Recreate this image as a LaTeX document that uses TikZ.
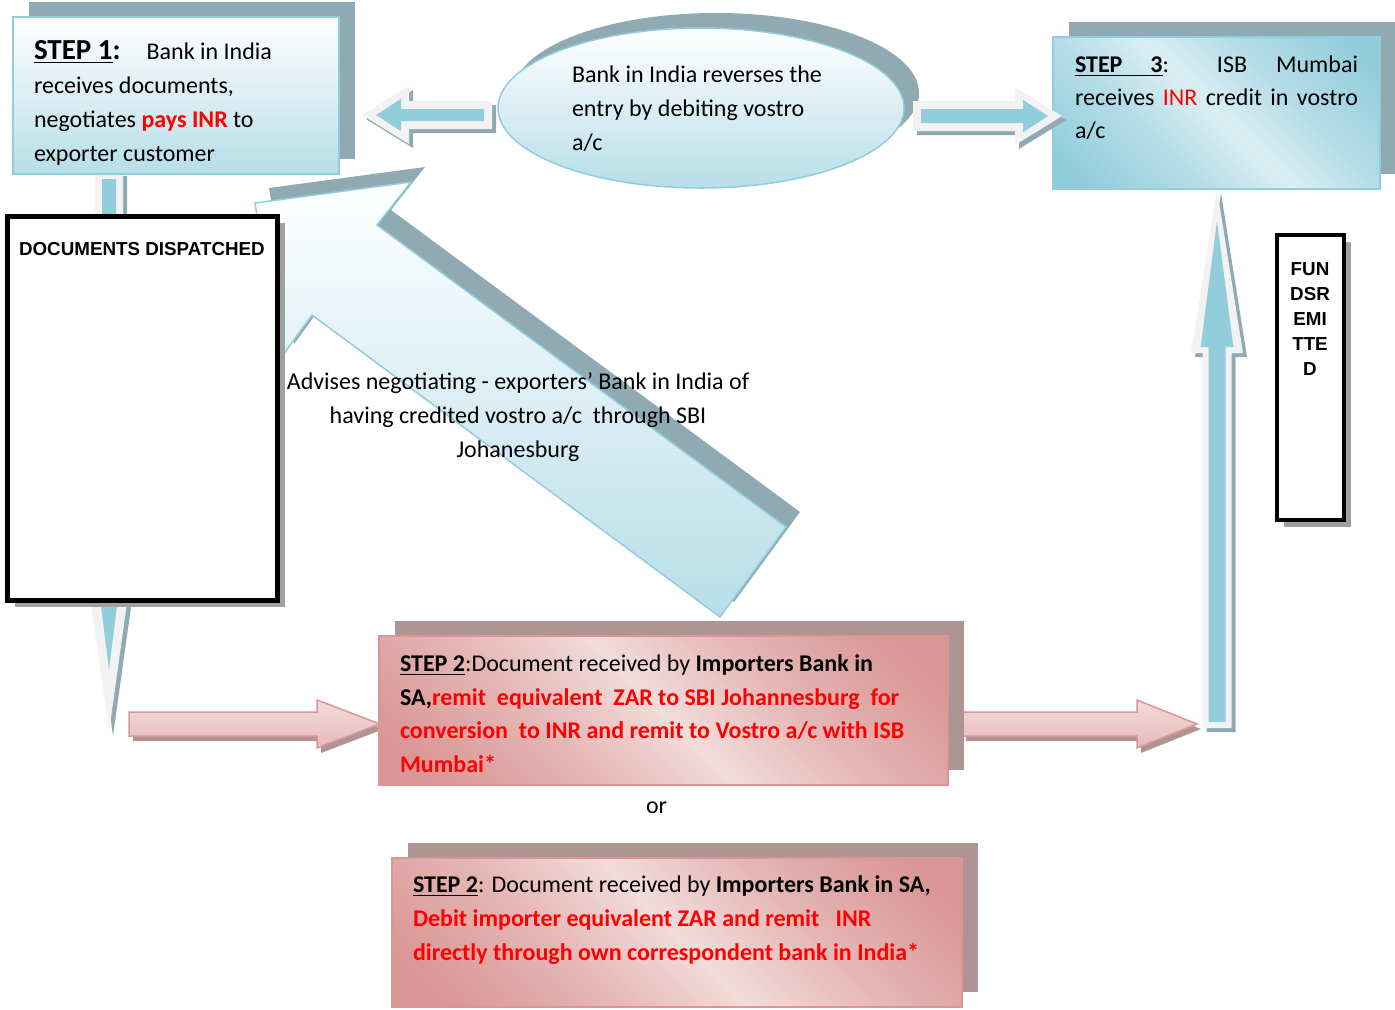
\documentclass[tikz,border=0pt]{standalone}
\usepackage{fontspec}
\setmainfont{Carlito}
\newfontfamily\arialfont{Liberation Sans}
\usetikzlibrary{positioning, shapes.geometric, shadows}

\definecolor{rimblue}{RGB}{146,205,221}
\definecolor{arrowblue}{RGB}{146,205,220}
\definecolor{paleblue}{RGB}{218,238,243}
\definecolor{softblue}{RGB}{183,222,232}
\definecolor{blueshadow}{RGB}{143,170,178}
\definecolor{rimgray}{RGB}{242,242,242}
\definecolor{pinkline}{RGB}{217,150,148}
\definecolor{pinklight}{RGB}{242,220,219}
\definecolor{pinkmid}{RGB}{230,185,184}
\definecolor{pinkshadow}{RGB}{175,148,148}
\definecolor{docshadow}{RGB}{160,160,160}
\colorlet{bluehalf}{arrowblue!55!paleblue}
\colorlet{pinkhalf}{pinkline!55!pinklight}

\pgfdeclarehorizontalshading{blueband}{100bp}{color(0bp)=(arrowblue); color(20bp)=(arrowblue); color(36bp)=(bluehalf); color(50bp)=(paleblue); color(64bp)=(bluehalf); color(80bp)=(arrowblue); color(100bp)=(arrowblue)}
\pgfdeclarehorizontalshading{pinkband}{100bp}{color(0bp)=(pinkline); color(20bp)=(pinkline); color(36bp)=(pinkhalf); color(50bp)=(pinklight); color(64bp)=(pinkhalf); color(80bp)=(pinkline); color(100bp)=(pinkline)}

\begin{document}
\begin{tikzpicture}[x = 0.5pt, y = -0.5pt,
    every node/.style = { inner sep = 0pt, outer sep = 0pt },
    body/.style = { anchor = base west, align = left, font = \fontsize{12}{17}\selectfont },
    bluebox/.style = { draw = rimblue, line width = 0.75pt, anchor = north west,
      drop shadow = {shadow xshift=8pt,shadow yshift=7.5pt,fill=blueshadow,opacity=1} },
    pinkbox/.style = { draw = pinkline, line width = 0.75pt, anchor = north west, shade, shading = pinkband, shading angle = 45,
      drop shadow = {shadow xshift=8pt,shadow yshift=7.5pt,fill=pinkshadow,opacity=1} },
    blackbox/.style = { draw, fill = white, anchor = north west },
    pics/hollowarrow/.style n args = {7}{ code = {
      \fill[blueshadow, shift = {#7}] (0,-#2) -- ({#1-#4},-#2) -- ({#1-#4},-#3) -- (#1,0) -- ({#1-#4},#3) -- ({#1-#4},#2) -- (0,#2) -- cycle;
      \fill[rimgray] (0,-#2) -- ({#1-#4},-#2) -- ({#1-#4},-#3) -- (#1,0) -- ({#1-#4},#3) -- ({#1-#4},#2) -- (0,#2) -- cycle;
      \fill[arrowblue] (#5,{#5-#2}) -- ({#1-#4+#5},{#5-#2}) -- ({#1-#4+#5},{1.6*#5-#3}) -- ({#1-#6},0)
        -- ({#1-#4+#5},{#3-1.6*#5}) -- ({#1-#4+#5},{#2-#5}) -- (#5,{#2-#5}) -- cycle; } },
    pics/pinkarrow/.style n args = {4}{ code = {
      \fill[pinkshadow, shift = {(4,5)}] (0,-#2) -- ({#1-#4},-#2) -- ({#1-#4},-#3) -- (#1,0) -- ({#1-#4},#3) -- ({#1-#4},#2) -- (0,#2) -- cycle;
      \shade[top color = pinklight, bottom color = pinkmid, draw = pinkline, line width = 0.75pt]
        (0,-#2) -- ({#1-#4},-#2) -- ({#1-#4},-#3) -- (#1,0) -- ({#1-#4},#3) -- ({#1-#4},#2) -- (0,#2) -- cycle; } }
  ]
  \useasboundingbox (0,0) rectangle (1395,1009);

  \pic[rotate = -90] at (109,172) {hollowarrow = {560}{14}{24}{172}{7}{62}{(4,-4)}};

  \fill[blueshadow, shift = {(14,-15)}] (255,203) -- (411,182) -- (377,225) -- (786,527) -- (720,617) -- (312,315) -- (280,359) -- cycle;
  \shade[top color = white, bottom color = softblue, draw = rimblue, line width = 0.75pt]
    (255,203) -- (411,182) -- (377,225) -- (786,527) -- (720,617) -- (312,315) -- (280,359) -- cycle;

  \node[bluebox, top color = white, bottom color = softblue, minimum width = 163pt, minimum height = 78.5pt] (stepone) at (13,17) {};
  \node[blackbox, line width = 2.5pt, minimum width = 135pt, minimum height = 192pt,
    drop shadow = {shadow xshift=4pt,shadow yshift=-3.5pt,fill=docshadow,opacity=1}] (docs) at (7,216) {};
  \node[draw = rimblue, line width = 0.75pt, ellipse, top color = white, bottom color = softblue, minimum width = 203pt, minimum height = 80pt,
    drop shadow = {shadow xshift=7.5pt,shadow yshift=7.5pt,fill=blueshadow,opacity=1}] (reverse) at (701,108) {};
  \node[bluebox, shade, shading = blueband, shading angle = 45, minimum width = 163.5pt, minimum height = 76pt] (stepthree) at (1053,37) {};

  \pic[rotate = 180] at (492,115) {hollowarrow = {130}{14}{29}{47}{8}{14}{(-4,-4)}};
  \pic at (913,116) {hollowarrow = {149}{15}{29}{47}{8}{14}{(4,4)}};
  \pic[rotate = 90] at (1217,728) {hollowarrow = {539}{14.5}{26}{164}{6}{32}{(-4,4)}};

  \node[blackbox, line width = 2pt, minimum width = 33.5pt, minimum height = 142.5pt,
    drop shadow = {shadow xshift=3.5pt,shadow yshift=-3.5pt,fill=docshadow,opacity=1}] (funds) at (1277,235) {};

  \pic at (129,724) {pinkarrow = {251}{12}{24}{63}};
  \pic at (962,724) {pinkarrow = {235}{12}{24}{60}};

  \node[pinkbox, minimum width = 284.5pt, minimum height = 74.5pt] (stepa) at (379,636) {};
  \node[pinkbox, minimum width = 285pt, minimum height = 74.5pt] (stepb) at (392,858) {};

  \node[body] (steponetext) at (34,161)
    {{\fontsize{14.5}{17}\selectfont\textbf{\underline{STEP 1}:}}\hspace{13pt}Bank in India\\
     receives documents,\\
     negotiates \textcolor{red}{\textbf{pays INR}} to\\
     exporter customer};
  \node[anchor = base west, font = \arialfont\bfseries\fontsize{9.4}{11}\selectfont] (docstext) at (19,255) {DOCUMENTS DISPATCHED};
  \node[body] (reversetext) at (572,150) {Bank in India reverses the\\ entry by debiting vostro\\ a/c};
  \node[body, font = \fontsize{12}{16.5}\selectfont] (stepthreetext) at (1075,138)
    {\hbox to 141.5pt{\textbf{\underline{STEP\hspace{14pt}3}}:\hfill ISB\hspace{14.5pt}Mumbai}\\
     \hbox to 141.5pt{receives\hfill\textcolor{red}{INR}\hfill credit\hfill in\hfill vostro}\\
     a/c};
  \node[anchor = base, align = center, font = \arialfont\bfseries\fontsize{9.4}{12.5}\selectfont] (fundstext) at (1310,375) {FUN\\DSR\\EMI\\TTE\\D};
  \node[body, anchor = base, align = center] (advises) at (518,457)
    {Advises negotiating - exporters’ Bank in India of\\
     having credited vostro a/c\ \ through SBI\\
     Johanesburg};
  \node[body, font = \fontsize{12}{16.75}\selectfont] (stepatext) at (400,772)
    {\textbf{\underline{STEP 2}}:Document received by \textbf{Importers Bank in}\\
     \textbf{SA,}\textcolor{red}{\textbf{remit\ \ equivalent\ \ ZAR to SBI Johannesburg\ \ for}}\\
     \textcolor{red}{\textbf{conversion\ \ to INR and remit to Vostro a/c with ISB}}\\
     \textcolor{red}{\textbf{Mumbai*}}};
  \node[font = \fontsize{12}{17}\selectfont, below = 8.5pt of stepa, xshift = -3.5pt] (ortext) {or};
  \node[body] (stepbtext) at (413,960)
    {\textbf{\underline{STEP 2}}: Document received by \textbf{Importers Bank in SA,}\\
     \textcolor{red}{\textbf{Debit importer equivalent ZAR and remit\ \ \ INR}}\\
     \textcolor{red}{\textbf{directly through own correspondent bank in India*}}};
\end{tikzpicture}
\end{document}
